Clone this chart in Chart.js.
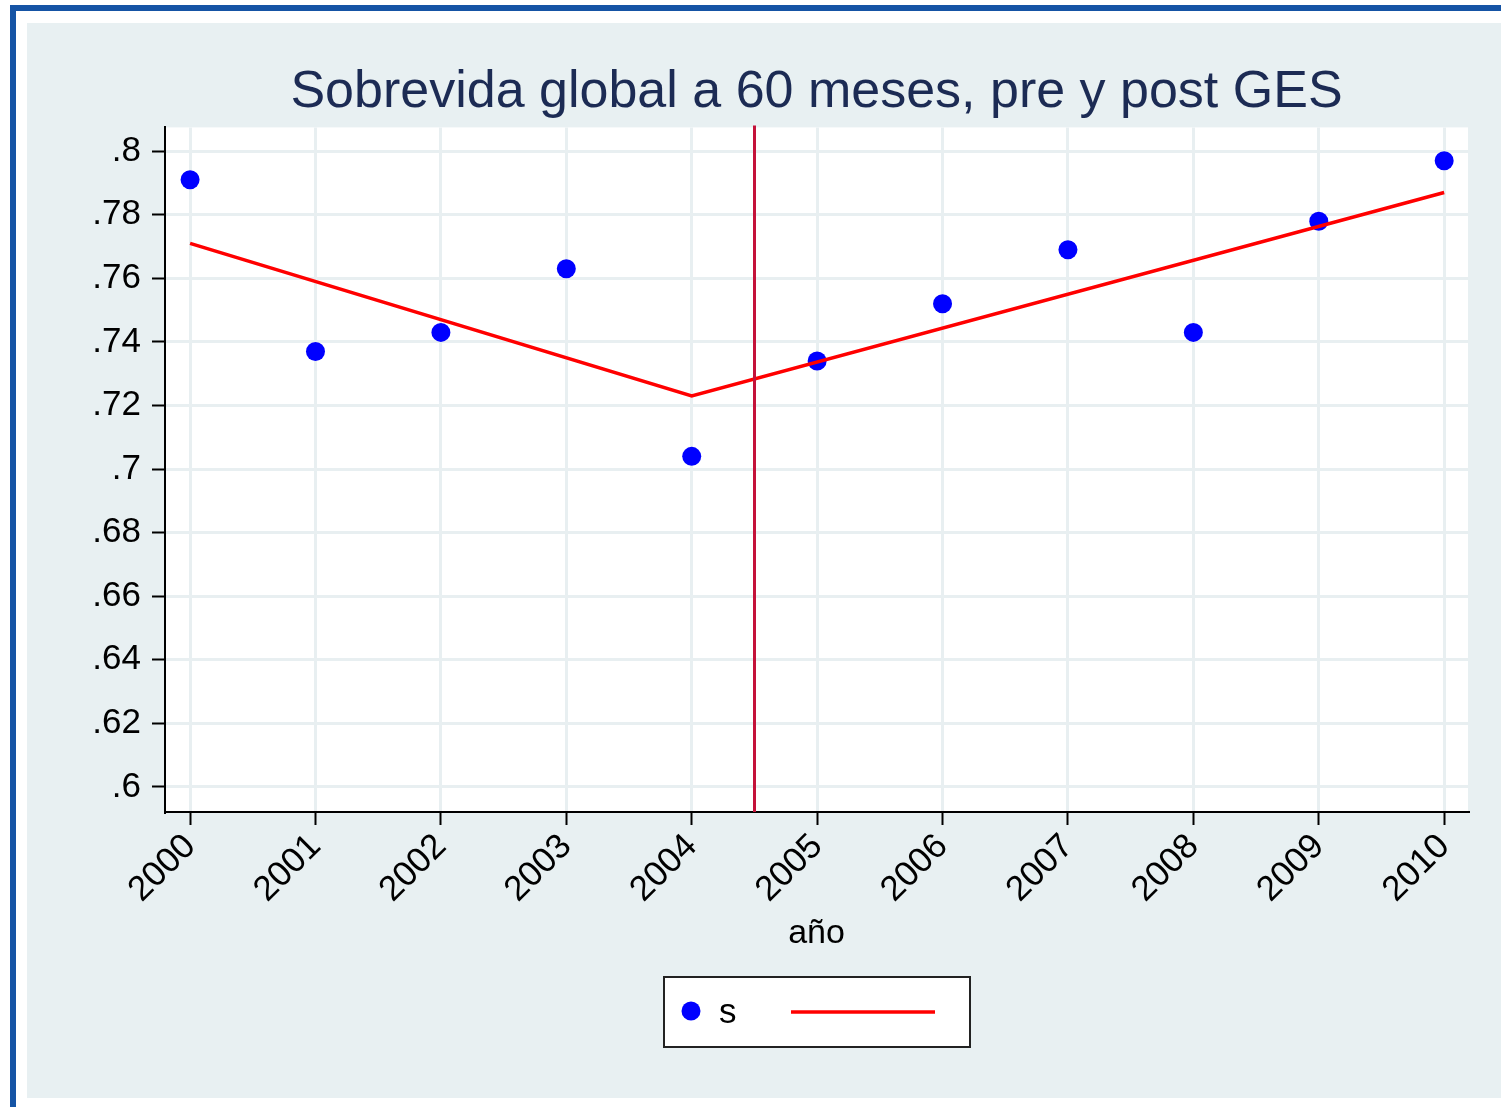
<!DOCTYPE html>
<html>
<head>
<meta charset="utf-8">
<script src="https://cdn.jsdelivr.net/npm/chart.js@4.4.1/dist/chart.umd.min.js"></script>
<style>
  body { margin: 0; background: #fff; width: 1501px; height: 1107px; overflow: hidden; position: relative; }
  #frame { position: absolute; left: 10px; top: 5px; right: 0; bottom: 0; border-top: 6px solid #1554a5; border-left: 6px solid #1554a5; }
  #panel { position: absolute; left: 27px; top: 23px; width: 1474px; height: 1075px; background: #e8f0f2; }
</style>
</head>
<body>
<div id="frame"></div>
<div id="panel"><canvas id="chart" width="1474" height="1075"></canvas></div>
<script>
// data
var years = [2000, 2001, 2002, 2003, 2004, 2005, 2006, 2007, 2008, 2009, 2010];
var survival = [0.791, 0.737, 0.743, 0.763, 0.704, 0.734, 0.752, 0.769, 0.743, 0.778, 0.797];
var fitYears = [2000, 2004, 2010];
var fitValues = [0.771, 0.723, 0.787];
var yTicks = [0.6, 0.62, 0.64, 0.66, 0.68, 0.7, 0.72, 0.74, 0.76, 0.78, 0.8];
var cutYear = 2004.5;

Chart.defaults.font.family = '"Liberation Sans", Arial, sans-serif';

var plotBg = {
  id: 'plotBg',
  beforeDraw: function(chart) {
    var c = chart.ctx, a = chart.chartArea;
    c.save();
    c.fillStyle = '#ffffff';
    c.fillRect(a.left, a.top, a.right - a.left, a.bottom - a.top);
    c.restore();
  }
};

var cutLine = {
  id: 'cutLine',
  afterDatasetsDraw: function(chart) {
    var c = chart.ctx, a = chart.chartArea;
    var x = Math.round(chart.scales.x.getPixelForValue(cutYear)) + 0.5;
    c.save();
    c.strokeStyle = '#c4123a';
    c.lineWidth = 3;
    c.beginPath();
    c.moveTo(x, a.top - 2);
    c.lineTo(x, a.bottom);
    c.stroke();
    c.restore();
  }
};

// boxed legend under the axis title
var boxLegend = {
  id: 'boxLegend',
  afterDraw: function(chart) {
    var c = chart.ctx, a = chart.chartArea;
    var w = 306, h = 70;
    var left = Math.round((a.left + a.right) / 2 - w / 2), top = a.bottom + 165;
    c.save();
    c.fillStyle = '#ffffff';
    c.fillRect(left, top, w, h);
    c.strokeStyle = '#222222';
    c.lineWidth = 2;
    c.strokeRect(left, top, w, h);
    c.fillStyle = '#0000ff';
    c.beginPath();
    c.arc(left + 27, top + 34, 9.5, 0, 2 * Math.PI);
    c.fill();
    c.fillStyle = '#000000';
    c.font = '35px "Liberation Sans", Arial, sans-serif';
    c.textBaseline = 'alphabetic';
    c.fillText(chart.data.datasets[0].label, left + 55, top + 46);
    c.strokeStyle = '#ff0000';
    c.lineWidth = 3.5;
    c.beginPath();
    c.moveTo(left + 127, top + 35);
    c.lineTo(left + 271, top + 35);
    c.stroke();
    c.restore();
  }
};

var ctx = document.getElementById('chart').getContext('2d');

var myChart = new Chart(ctx, {
  data: {
    datasets: [{
      type: 'scatter',
      label: 's',
      data: years.map(function(y, i) { return { x: y, y: survival[i] }; }),
      backgroundColor: '#0000ff',
      borderColor: '#0000ff',
      borderWidth: 0,
      pointRadius: 9.5,
      pointHoverRadius: 9.5,
      order: 1
    }, {
      type: 'line',
      label: '',
      data: fitYears.map(function(y, i) { return { x: y, y: fitValues[i] }; }),
      borderColor: '#ff0000',
      borderWidth: 3.5,
      pointRadius: 0,
      fill: false,
      tension: 0,
      order: 0
    }]
  },
  options: {
    responsive: false,
    animation: false,
    layout: { padding: { top: 38, right: 33, bottom: 136, left: 0 } },
    plugins: {
      legend: { display: false },
      tooltip: { enabled: false },
      title: {
        display: true,
        fullSize: false,
        text: 'Sobrevida global a 60 meses, pre y post GES',
        color: '#1c2b54',
        font: { size: 52, weight: 'normal' },
        padding: { top: 0, bottom: 4 }
      }
    },
    scales: {
      x: {
        type: 'linear',
        min: 1999.8,
        max: 2010.19,
        afterBuildTicks: function(s) { s.ticks = years.map(function(v) { return { value: v }; }); },
        afterFit: function(s) { s.height = 150; },
        ticks: {
          autoSkip: false,
          minRotation: 45,
          maxRotation: 45,
          padding: 1,
          color: '#000000',
          font: { size: 35 },
          callback: function(v) { return String(v); }
        },
        grid: { color: '#e8eff1', lineWidth: 3, tickColor: '#000000', tickWidth: 2, tickLength: 13 },
        border: { color: '#000000', width: 2 },
        title: {
          display: true,
          text: 'año',
          color: '#000000',
          font: { size: 34 },
          padding: { top: 0, bottom: 8 }
        }
      },
      y: {
        min: 0.5921,
        max: 0.8075,
        afterBuildTicks: function(s) { s.ticks = yTicks.map(function(v) { return { value: v }; }); },
        afterFit: function(s) { s.width = 138; },
        ticks: {
          padding: 11,
          color: '#000000',
          font: { size: 35 },
          callback: function(v) { return v.toFixed(2).replace(/0+$/, '').replace(/^0/, ''); }
        },
        grid: { color: '#e8eff1', lineWidth: 3, tickColor: '#000000', tickWidth: 2, tickLength: 13 },
        border: { color: '#000000', width: 2 }
      }
    }
  },
  plugins: [plotBg, cutLine, boxLegend]
});
</script>
</body>
</html>
